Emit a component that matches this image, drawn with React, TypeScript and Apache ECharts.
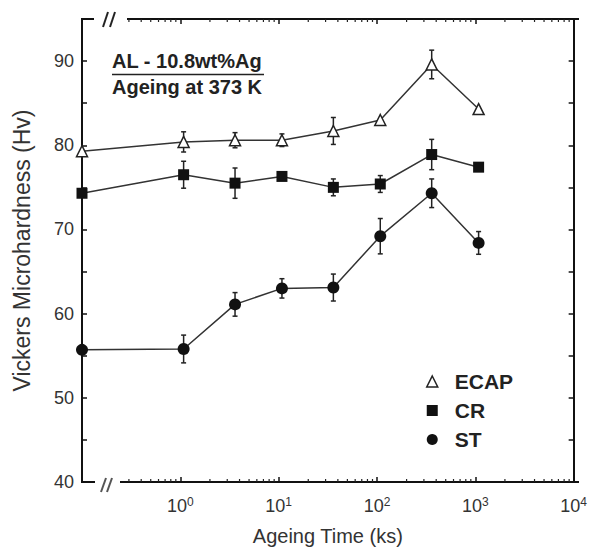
import React, { useEffect, useRef } from "react";
import * as echarts from "echarts";

// Ageing time (ks)
const times = [0.1, 1.08, 3.6, 10.8, 36, 108, 360, 1080];
// Vickers microhardness (Hv)
const ecap = [79.3, 80.4, 80.6, 80.6, 81.7, 83.0, 89.6, 84.3];
const ecapErr = [0, 1.2, 0.9, 0.75, 1.6, 0, 1.7, 0];
const cr = [74.3, 76.5, 75.5, 76.3, 75.0, 75.4, 78.9, 77.4];
const crErr = [0, 1.6, 1.8, 0, 1.0, 1.0, 1.8, 0];
const st = [55.7, 55.8, 61.1, 63.0, 63.1, 69.2, 74.3, 68.4];
const stErr = [0, 1.65, 1.4, 1.15, 1.6, 2.1, 1.7, 1.35];
const minorTickValues = [
  0.3, 0.4, 0.5, 0.6, 0.7, 0.8, 0.9,
  2, 3, 4, 5, 6, 7, 8, 9,
  20, 30, 40, 50, 60, 70, 80, 90,
  200, 300, 400, 500, 600, 700, 800, 900,
  2000, 3000, 4000, 5000, 6000, 7000, 8000, 9000,
];
const legendNames = ["ECAP", "CR", "ST"];
const noteLines = ["AL - 10.8wt%Ag", "Ageing at 373 K"];

const FONT = "Liberation Sans, Arial, sans-serif";
const L = 82, R = 578, T = 19, B = 482;
const W = 590, H = 552;

function errData(vals: number[], errs: number[]) {
  return times
    .map((t, i) => [t, vals[i] - errs[i], vals[i] + errs[i]])
    .filter((d, i) => errs[i] > 0);
}

const errRender = (params: any, api: any) => {
  const x = api.value(0);
  const lo = api.coord([x, api.value(1)]);
  const hi = api.coord([x, api.value(2)]);
  const w = 2.5;
  const st = { stroke: "#222", lineWidth: 1.5 };
  return {
    type: "group",
    children: [
      { type: "line", shape: { x1: lo[0], y1: lo[1], x2: hi[0], y2: hi[1] }, style: st },
      { type: "line", shape: { x1: lo[0] - w, y1: lo[1], x2: lo[0] + w, y2: lo[1] }, style: st },
      { type: "line", shape: { x1: hi[0] - w, y1: hi[1], x2: hi[0] + w, y2: hi[1] }, style: st },
    ],
  };
};

const minorRender = (params: any, api: any) => {
  const cs = params.coordSys;
  const p = api.coord([api.value(0), 50]);
  const yb = cs.y + cs.height;
  const yt = cs.y;
  const st = { stroke: "#222", lineWidth: 1.2 };
  return {
    type: "group",
    children: [
      { type: "line", shape: { x1: p[0], y1: yb, x2: p[0], y2: yb - 3 }, style: st },
      { type: "line", shape: { x1: p[0], y1: yt, x2: p[0], y2: yt + 3 }, style: st },
    ],
  };
};

export default function App() {
  const ref = useRef<HTMLDivElement>(null);
  useEffect(() => {
    if (!ref.current) return;
    const chart = echarts.init(ref.current, undefined, { renderer: "svg" });
    const axisLineStyle = { color: "#111", width: 2 };
    const xLabel = (v: number) => {
      const e = Math.round(Math.log10(v));
      if (e < 0) return "";
      return `{b|10}{s|${e}}`;
    };
    const option: any = {
      animation: false,
      backgroundColor: "#fff",
      textStyle: { fontFamily: FONT },
      grid: { left: L, right: W - R, top: T, bottom: H - B, containLabel: false },
      xAxis: [
        {
          type: "log",
          logBase: 10,
          min: 0.1,
          max: 10000,
          position: "bottom",
          name: "Ageing Time (ks)",
          nameLocation: "middle",
          nameGap: 44,
          nameTextStyle: { fontFamily: FONT, fontSize: 20, color: "#333" },
          axisLine: { show: false },
          axisTick: { show: true, inside: true, length: 5, lineStyle: { color: "#111", width: 1.5 } },
          splitLine: { show: false },
          minorTick: { show: false },
          axisLabel: {
            margin: 14,
            formatter: xLabel,
            rich: {
              b: { fontFamily: FONT, fontSize: 18, color: "#333", lineHeight: 20 },
              s: { fontFamily: FONT, fontSize: 12, color: "#333", verticalAlign: "top", lineHeight: 12 },
            },
          },
        },
        {
          type: "log",
          logBase: 10,
          min: 0.1,
          max: 10000,
          position: "top",
          axisLine: { show: false },
          axisTick: { show: true, inside: true, length: 5, lineStyle: { color: "#111", width: 1.5 } },
          axisLabel: { show: false },
          splitLine: { show: false },
        },
      ],
      yAxis: [
        {
          type: "value",
          min: 40,
          max: 95,
          interval: 5,
          position: "left",
          name: "Vickers Microhardness (Hv)",
          nameLocation: "middle",
          nameGap: 49,
          nameTextStyle: { fontFamily: FONT, fontSize: 23, color: "#333" },
          axisLine: { show: true, lineStyle: axisLineStyle },
          axisTick: { show: true, inside: true, length: 5, lineStyle: { color: "#111", width: 1.5 } },
          splitLine: { show: false },
          axisLabel: {
            margin: 8,
            fontFamily: FONT,
            fontSize: 18,
            color: "#333",
            formatter: (v: number) => (v % 10 === 0 ? String(v) : ""),
          },
        },
        {
          type: "value",
          min: 40,
          max: 95,
          interval: 5,
          position: "right",
          axisLine: { show: true, lineStyle: axisLineStyle },
          axisTick: { show: true, inside: true, length: 5, lineStyle: { color: "#111", width: 1.5 } },
          splitLine: { show: false },
          axisLabel: { show: false },
        },
      ],
      legend: {
        orient: "vertical",
        left: 421,
        top: 366,
        itemWidth: 11,
        itemHeight: 11,
        itemGap: 8,
        textStyle: { fontFamily: FONT, fontSize: 21, fontWeight: "bold", color: "#222", padding: [0, 0, 0, 12] },
        data: [
          { name: legendNames[0], icon: "triangle", itemStyle: { color: "#fff", borderColor: "#222", borderWidth: 1.5 } },
          { name: legendNames[1], icon: "rect", itemStyle: { color: "#111", borderWidth: 0 } },
          { name: legendNames[2], icon: "circle", itemStyle: { color: "#111", borderWidth: 0 } },
        ],
      },
      graphic: [
        // bottom axis line with break
        { type: "line", shape: { x1: L - 1, y1: B, x2: L + 13, y2: B }, style: { stroke: "#111", lineWidth: 2 } },
        { type: "line", shape: { x1: L + 19, y1: B + 10, x2: L + 24, y2: B - 4 }, style: { stroke: "#555", lineWidth: 2 } },
        { type: "line", shape: { x1: L + 25, y1: B + 10, x2: L + 30, y2: B - 4 }, style: { stroke: "#555", lineWidth: 2 } },
        { type: "line", shape: { x1: L + 38, y1: B, x2: R + 1, y2: B }, style: { stroke: "#111", lineWidth: 2 } },
        // top axis line with break
        { type: "line", shape: { x1: L - 1, y1: T, x2: L + 12, y2: T }, style: { stroke: "#111", lineWidth: 2 } },
        { type: "line", shape: { x1: L + 21, y1: T + 8, x2: L + 26, y2: T - 7 }, style: { stroke: "#222", lineWidth: 2 } },
        { type: "line", shape: { x1: L + 28, y1: T + 8, x2: L + 33, y2: T - 7 }, style: { stroke: "#222", lineWidth: 2 } },
        { type: "line", shape: { x1: L + 45, y1: T, x2: R + 1, y2: T }, style: { stroke: "#111", lineWidth: 2 } },
        // annotation
        {
          type: "text",
          left: 112,
          top: 51,
          style: { text: noteLines[0], font: `bold 20px ${FONT}`, fill: "#222" },
        },
        { type: "line", shape: { x1: 112, y1: 74.5, x2: 264, y2: 74.5 }, style: { stroke: "#222", lineWidth: 1.5 } },
        {
          type: "text",
          left: 112,
          top: 77,
          style: { text: noteLines[1], font: `bold 20px ${FONT}`, fill: "#222" },
        },
      ],
      series: [
        {
          type: "custom",
          name: "minor",
          silent: true,
          renderItem: minorRender,
          data: minorTickValues.map((v) => [v]),
          encode: { x: 0 },
          z: 1,
        },
        { type: "custom", name: "ecapErr", silent: true, renderItem: errRender, data: errData(ecap, ecapErr), encode: { x: 0, y: [1, 2] }, z: 2 },
        { type: "custom", name: "crErr", silent: true, renderItem: errRender, data: errData(cr, crErr), encode: { x: 0, y: [1, 2] }, z: 2 },
        { type: "custom", name: "stErr", silent: true, renderItem: errRender, data: errData(st, stErr), encode: { x: 0, y: [1, 2] }, z: 2 },
        {
          type: "line",
          name: legendNames[0],
          data: times.map((t, i) => [t, ecap[i]]),
          symbol: "triangle",
          symbolSize: 11,
          showAllSymbol: true,
          lineStyle: { color: "#333", width: 1.5 },
          itemStyle: { color: "#fff", borderColor: "#222", borderWidth: 1.5 },
          z: 3,
        },
        {
          type: "line",
          name: legendNames[1],
          data: times.map((t, i) => [t, cr[i]]),
          symbol: "rect",
          symbolSize: 11,
          showAllSymbol: true,
          lineStyle: { color: "#333", width: 1.5 },
          itemStyle: { color: "#111", borderWidth: 0 },
          z: 3,
        },
        {
          type: "line",
          name: legendNames[2],
          data: times.map((t, i) => [t, st[i]]),
          symbol: "circle",
          symbolSize: 12,
          showAllSymbol: true,
          lineStyle: { color: "#333", width: 1.5 },
          itemStyle: { color: "#111", borderWidth: 0 },
          z: 3,
        },
      ],
    };
    chart.setOption(option);
    return () => chart.dispose();
  }, []);
  return <div ref={ref} style={{ width: W, height: H, position: "absolute", left: 0, top: 0 }} />;
}
